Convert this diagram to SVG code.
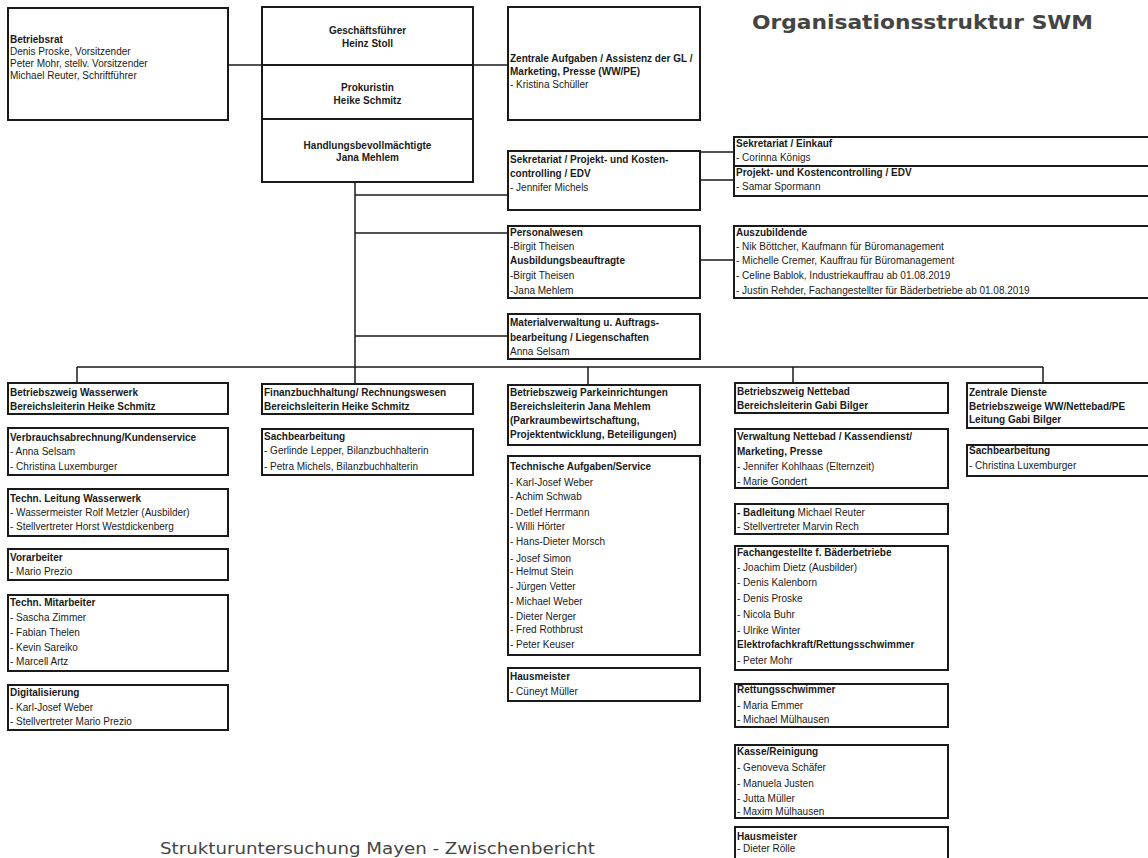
<svg xmlns="http://www.w3.org/2000/svg" width="1148" height="858" viewBox="0 0 1148 858">
<style>
text{font-family:"Liberation Sans",Arial,sans-serif;font-size:10px;fill:#1a1a1a}
.b{font-weight:bold}
.c{text-anchor:middle}
rect.box{fill:#fff;stroke:#1a1a1a;stroke-width:2}
.div{stroke:#1a1a1a;stroke-width:2}
#connectors line{stroke:#1a1a1a;stroke-width:1.5}
.title{font-family:"DejaVu Sans",sans-serif;font-weight:bold;font-size:19px;fill:#444}
.foot{font-family:"DejaVu Sans",sans-serif;font-size:16px;fill:#444}
</style>
<rect width="1148" height="858" fill="#fff"/>

<g id="connectors">
<line x1="228" y1="65" x2="262" y2="65"/>
<line x1="473" y1="65" x2="508" y2="65"/>
<line x1="355" y1="182" x2="355" y2="384"/>
<line x1="355" y1="195" x2="508" y2="195"/>
<line x1="355" y1="233" x2="508" y2="233"/>
<line x1="355" y1="336" x2="508" y2="336"/>
<line x1="700" y1="152" x2="734" y2="152"/>
<line x1="700" y1="180" x2="734" y2="180"/>
<line x1="700" y1="260" x2="734" y2="260"/>
<line x1="77" y1="367" x2="1043" y2="367"/>
<line x1="77" y1="367" x2="77" y2="383"/>
<line x1="588" y1="367" x2="588" y2="385"/>
<line x1="793" y1="367" x2="793" y2="383"/>
<line x1="1043" y1="367" x2="1043" y2="383"/>
</g>

<text class="title" x="752" y="29" textLength="341" lengthAdjust="spacingAndGlyphs">Organisationsstruktur SWM</text>

<g id="betriebsrat">
<rect class="box" x="8" y="8" width="220" height="112"/>
<text class="b" x="10" y="43">Betriebsrat</text>
<text x="10" y="55">Denis Proske, Vorsitzender</text>
<text x="10" y="67">Peter Mohr, stellv. Vorsitzender</text>
<text x="10" y="79">Michael Reuter, Schriftführer</text>
</g>

<g id="geschaeftsfuehrer">
<rect class="box" x="262" y="7" width="211" height="58"/>
<text class="b c" x="367.5" y="34">Geschäftsführer</text>
<text class="b c" x="367.5" y="47">Heinz Stoll</text>
</g>
<g id="prokuristin">
<rect class="box" x="262" y="65" width="211" height="54"/>
<text class="b c" x="367.5" y="91">Prokuristin</text>
<text class="b c" x="367.5" y="104">Heike Schmitz</text>
</g>
<g id="handlungsbevollmaechtigte">
<rect class="box" x="262" y="119" width="211" height="63"/>
<text class="b c" x="367.5" y="149">Handlungsbevollmächtigte</text>
<text class="b c" x="367.5" y="161">Jana Mehlem</text>
</g>

<g id="zentrale-aufgaben">
<rect class="box" x="508" y="7" width="192" height="113"/>
<text class="b" x="510" y="62">Zentrale Aufgaben / Assistenz der GL /</text>
<text class="b" x="510" y="75">Marketing, Presse (WW/PE)</text>
<text x="510" y="88">- Kristina Schüller</text>
</g>

<g id="sekretariat-projekt">
<rect class="box" x="508" y="151" width="192" height="59"/>
<text class="b" x="510" y="163">Sekretariat / Projekt- und Kosten-</text>
<text class="b" x="510" y="177">controlling / EDV</text>
<text x="510" y="191">- Jennifer Michels</text>
</g>

<g id="sekretariat-einkauf">
<rect class="box" x="734" y="137" width="416" height="59"/>
<line class="div" x1="734" y1="166" x2="1150" y2="166"/>
<text class="b" x="736" y="147">Sekretariat / Einkauf</text>
<text x="736" y="161">- Corinna Königs</text>
<text class="b" x="736" y="176">Projekt- und Kostencontrolling / EDV</text>
<text x="736" y="190">- Samar Spormann</text>
</g>

<g id="personalwesen">
<rect class="box" x="508" y="226" width="192" height="72"/>
<text class="b" x="510" y="236">Personalwesen</text>
<text x="510" y="250">-Birgit Theisen</text>
<text class="b" x="510" y="264">Ausbildungsbeauftragte</text>
<text x="510" y="279">-Birgit Theisen</text>
<text x="510" y="294">-Jana Mehlem</text>
</g>

<g id="auszubildende">
<rect class="box" x="734" y="226" width="416" height="72"/>
<text class="b" x="736" y="236">Auszubildende</text>
<text x="736" y="250">- Nik Böttcher, Kaufmann für Büromanagement</text>
<text x="736" y="264">- Michelle Cremer, Kauffrau für Büromanagement</text>
<text x="736" y="279">- Celine Bablok, Industriekauffrau ab 01.08.2019</text>
<text x="736" y="294">- Justin Rehder, Fachangestellter für Bäderbetriebe ab 01.08.2019</text>
</g>

<g id="materialverwaltung">
<rect class="box" x="508" y="314" width="192" height="45"/>
<text class="b" x="510" y="326">Materialverwaltung u. Auftrags-</text>
<text class="b" x="510" y="341">bearbeitung  / Liegenschaften</text>
<text x="510" y="355">Anna Selsam</text>
</g>

<!-- Column 1 -->
<g id="wasserwerk">
<rect class="box" x="8" y="383" width="220" height="31"/>
<text class="b" x="10" y="396">Betriebszweig Wasserwerk</text>
<text class="b" x="10" y="410">Bereichsleiterin Heike Schmitz</text>
</g>
<g id="verbrauchsabrechnung">
<rect class="box" x="8" y="428" width="220" height="47"/>
<text class="b" x="10" y="441">Verbrauchsabrechnung/Kundenservice</text>
<text x="10" y="455">- Anna Selsam</text>
<text x="10" y="470">- Christina Luxemburger</text>
</g>
<g id="techn-leitung">
<rect class="box" x="8" y="489" width="220" height="47"/>
<text class="b" x="10" y="502">Techn. Leitung Wasserwerk</text>
<text x="10" y="516">- Wassermeister Rolf Metzler (Ausbilder)</text>
<text x="10" y="530">- Stellvertreter Horst Westdickenberg</text>
</g>
<g id="vorarbeiter">
<rect class="box" x="8" y="549" width="220" height="31"/>
<text class="b" x="10" y="561">Vorarbeiter</text>
<text x="10" y="575">- Mario Prezio</text>
</g>
<g id="techn-mitarbeiter">
<rect class="box" x="8" y="595" width="220" height="76"/>
<text class="b" x="10" y="606">Techn. Mitarbeiter</text>
<text x="10" y="621">- Sascha Zimmer</text>
<text x="10" y="636">- Fabian Thelen</text>
<text x="10" y="651">- Kevin Sareiko</text>
<text x="10" y="665">- Marcell Artz</text>
</g>
<g id="digitalisierung">
<rect class="box" x="8" y="685" width="220" height="45"/>
<text class="b" x="10" y="696">Digitalisierung</text>
<text x="10" y="711">- Karl-Josef Weber</text>
<text x="10" y="725">- Stellvertreter Mario Prezio</text>
</g>

<!-- Column 2 -->
<g id="finanzbuchhaltung">
<rect class="box" x="262" y="384" width="211" height="30"/>
<text class="b" x="264" y="396">Finanzbuchhaltung/ Rechnungswesen</text>
<text class="b" x="264" y="410">Bereichsleiterin Heike Schmitz</text>
</g>
<g id="sachbearbeitung-fibu">
<rect class="box" x="262" y="429" width="211" height="46"/>
<text class="b" x="264" y="440">Sachbearbeitung</text>
<text x="264" y="454">- Gerlinde Lepper, Bilanzbuchhalterin</text>
<text x="264" y="470">- Petra Michels, Bilanzbuchhalterin</text>
</g>

<!-- Column 3 -->
<g id="parkeinrichtungen">
<rect class="box" x="508" y="385" width="192" height="60"/>
<text class="b" x="510" y="396">Betriebszweig Parkeinrichtungen</text>
<text class="b" x="510" y="410">Bereichsleiterin Jana Mehlem</text>
<text class="b" x="510" y="424">(Parkraumbewirtschaftung,</text>
<text class="b" x="510" y="438">Projektentwicklung, Beteiligungen)</text>
</g>
<g id="technische-aufgaben">
<rect class="box" x="508" y="456" width="192" height="199"/>
<text class="b" x="510" y="470">Technische Aufgaben/Service</text>
<text x="510" y="486">- Karl-Josef Weber</text>
<text x="510" y="500">- Achim Schwab</text>
<text x="510" y="516">- Detlef Herrmann</text>
<text x="510" y="530">- Willi Hörter</text>
<text x="510" y="545">- Hans-Dieter Morsch</text>
<text x="510" y="562">- Josef Simon</text>
<text x="510" y="575">- Helmut Stein</text>
<text x="510" y="590">- Jürgen Vetter</text>
<text x="510" y="605">- Michael Weber</text>
<text x="510" y="620">- Dieter Nerger</text>
<text x="510" y="633">- Fred Rothbrust</text>
<text x="510" y="648">- Peter Keuser</text>
</g>
<g id="hausmeister-park">
<rect class="box" x="508" y="668" width="192" height="33"/>
<text class="b" x="510" y="680">Hausmeister</text>
<text x="510" y="695">- Cüneyt Müller</text>
</g>

<!-- Column 4 -->
<g id="nettebad">
<rect class="box" x="735" y="383" width="213" height="30"/>
<text class="b" x="737" y="395">Betriebszweig Nettebad</text>
<text class="b" x="737" y="409">Bereichsleiterin Gabi Bilger</text>
</g>
<g id="verwaltung-nettebad">
<rect class="box" x="735" y="429" width="213" height="59"/>
<text class="b" x="737" y="440">Verwaltung Nettebad / Kassendienst/</text>
<text class="b" x="737" y="455">Marketing, Presse</text>
<text x="737" y="470">- Jennifer Kohlhaas (Elternzeit)</text>
<text x="737" y="485">- Marie Gondert</text>
</g>
<g id="badleitung">
<rect class="box" x="735" y="504" width="213" height="30"/>
<text x="737" y="516"><tspan class="b">- Badleitung</tspan> Michael Reuter</text>
<text x="737" y="530">- Stellvertreter Marvin Rech</text>
</g>
<g id="fachangestellte">
<rect class="box" x="735" y="546" width="213" height="124"/>
<text class="b" x="737" y="556">Fachangestellte f. Bäderbetriebe</text>
<text x="737" y="571">- Joachim Dietz (Ausbilder)</text>
<text x="737" y="586">- Denis Kalenborn</text>
<text x="737" y="602">- Denis Proske</text>
<text x="737" y="618">- Nicola Buhr</text>
<text x="737" y="634">- Ulrike Winter</text>
<text class="b" x="737" y="648">Elektrofachkraft/Rettungsschwimmer</text>
<text x="737" y="664">- Peter Mohr</text>
</g>
<g id="rettungsschwimmer">
<rect class="box" x="735" y="684" width="213" height="43"/>
<text class="b" x="737" y="693">Rettungsschwimmer</text>
<text x="737" y="709">- Maria Emmer</text>
<text x="737" y="723">- Michael Mülhausen</text>
</g>
<g id="kasse-reinigung">
<rect class="box" x="735" y="745" width="213" height="73"/>
<text class="b" x="737" y="755">Kasse/Reinigung</text>
<text x="737" y="771">- Genoveva Schäfer</text>
<text x="737" y="787">- Manuela Justen</text>
<text x="737" y="802">- Jutta Müller</text>
<text x="737" y="815">- Maxim Mülhausen</text>
</g>
<g id="hausmeister-bad">
<rect class="box" x="735" y="827" width="213" height="45"/>
<text class="b" x="737" y="840">Hausmeister</text>
<text x="737" y="852">- Dieter Rölle</text>
</g>

<!-- Column 5 -->
<g id="zentrale-dienste">
<rect class="box" x="967" y="383" width="183" height="45"/>
<text class="b" x="969" y="396">Zentrale Dienste</text>
<text class="b" x="969" y="410">Betriebszweige WW/Nettebad/PE</text>
<text class="b" x="969" y="423">Leitung Gabi Bilger</text>
</g>
<g id="sachbearbeitung-zd">
<rect class="box" x="967" y="445" width="183" height="31"/>
<text class="b" x="969" y="454">Sachbearbeitung</text>
<text x="969" y="469">- Christina Luxemburger</text>
</g>

<text class="foot" x="160" y="854" textLength="435" lengthAdjust="spacingAndGlyphs">Strukturuntersuchung Mayen - Zwischenbericht</text>
</svg>
